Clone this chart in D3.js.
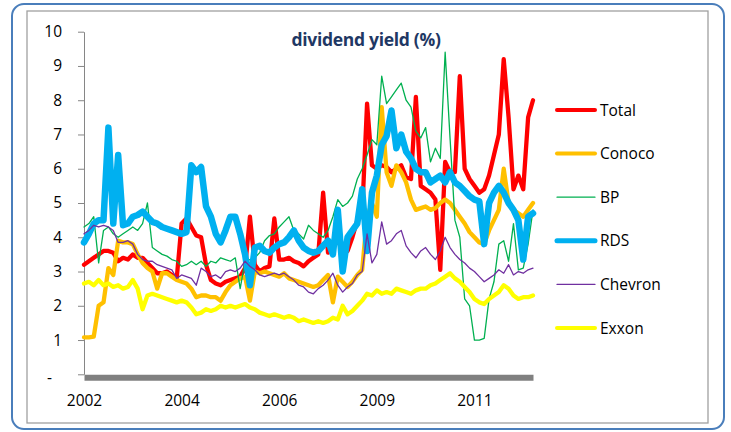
<!DOCTYPE html>
<html>
<head>
<meta charset="utf-8">
<script src="https://cdn.jsdelivr.net/npm/d3@7"></script>
<style>
    body { margin: 0; background: #fff; }
    text { font-family: "Open Sans", sans-serif; }
</style>
</head>
<body>
<div id="chart"></div>
<script>

// category axis labels, one label every 20 points
const yearLabels = ["2002", "2004", "2006", "2009", "2011"];
const labelEvery = 20;
const yTicks = [0, 1, 2, 3, 4, 5, 6, 7, 8, 9, 10];

const seriesNames = ["Total", "Conoco", "BP", "RDS", "Chevron", "Exxon"];

// dividend yield (%)
const total = [
    3.2, 3.3, 3.4, 3.5, 3.6, 3.6, 3.55, 3.3, 3.4, 3.35,
    3.5, 3.4, 3.4, 3.25, 3.1, 2.95, 2.95, 3.0, 2.9, 2.8,
    4.4, 4.55, 4.3, 4.05, 4.0, 3.2, 2.75, 2.65, 2.6, 2.7,
    2.75, 2.8, 2.85, 3.1, 4.6, 3.2, 3.0, 3.1, 3.15, 4.55,
    3.35, 3.35, 3.4, 3.3, 3.25, 3.15, 3.3, 3.4, 3.5, 5.3,
    3.55, 3.7, 3.9, 3.8, 3.6, 4.0, 4.5, 4.7, 7.9, 6.1,
    6.0, 6.1, 6.05, 5.9, 6.0, 6.1, 5.75, 5.7, 8.1, 5.5,
    5.4, 5.3, 5.1, 3.05, 6.2, 5.9, 5.9, 8.7, 6.0, 5.7,
    5.5, 5.3, 5.4, 5.8, 6.4, 7.0, 9.2, 7.5, 5.4, 5.8,
    5.4, 7.5, 8.0
];

const conoco = [
    1.08, 1.08, 1.1, 2.0, 2.1, 3.1, 2.9, 3.9, 3.85, 3.85,
    3.8, 3.5, 3.25, 3.1, 3.0, 2.5, 2.95, 2.95, 2.85, 2.75,
    2.7, 2.65, 2.5, 2.25, 2.3, 2.3, 2.25, 2.25, 2.15, 2.4,
    2.6, 2.7, 2.8, 2.85, 2.15, 3.0, 2.95, 3.0, 2.95, 2.9,
    2.85, 2.95, 2.8, 2.75, 2.7, 2.65, 2.6, 2.55, 2.6, 2.75,
    2.9, 2.1, 2.85, 2.7, 2.55, 2.7, 2.9, 3.05, 4.6, 5.0,
    4.6, 7.8, 5.9, 5.5, 6.1, 5.9, 5.6, 5.1, 4.8, 4.85,
    4.9, 4.8, 4.85, 5.0, 5.1, 5.0, 4.8, 4.6, 4.4, 4.15,
    4.0, 3.85, 3.8, 4.2, 4.5, 4.8, 6.0, 5.0, 4.8, 4.7,
    4.6, 4.8, 5.0
];

const bp = [
    4.3, 4.4, 4.6, 3.25, 4.2, 4.3, 4.1, 4.0, 4.1, 4.2,
    4.3, 4.2, 4.4, 5.0, 3.7, 3.6, 3.5, 3.45, 3.35, 3.3,
    3.15, 3.2, 3.3, 3.2, 3.3, 3.15, 3.3, 3.25, 3.4, 3.35,
    3.3, 3.4, 2.5, 3.3, 3.35, 3.4, 3.55, 3.9, 4.05, 4.1,
    4.3, 4.45, 4.6, 4.2, 4.1, 3.95, 4.35, 4.2, 4.1, 4.0,
    4.2, 4.6, 5.1, 4.9, 5.0, 5.2, 5.7, 6.0, 6.4, 6.85,
    6.7, 8.7, 7.9, 8.1, 8.3, 8.5, 8.0, 7.8, 7.1, 6.9,
    7.2, 6.2, 6.6, 6.3, 9.4, 6.9, 4.5, 4.0, 2.2, 2.0,
    1.0, 1.0, 1.05, 2.2, 2.7, 3.8, 3.9, 3.3, 4.4, 3.05,
    3.1, 3.8, 4.8
];

const rds = [
    3.85, 4.1, 4.4, 4.5, 4.5, 7.2, 4.4, 6.4, 4.35, 4.4,
    4.6, 4.65, 4.75, 4.6, 4.45, 4.4, 4.3, 4.25, 4.2, 4.15,
    4.1, 4.15, 6.1, 5.9, 6.05, 4.9, 4.6, 4.1, 3.85, 4.2,
    4.6, 4.6, 4.1, 3.5, 2.6, 3.7, 3.75, 3.6, 3.55, 3.7,
    3.8, 3.85, 4.0, 4.2, 3.9, 3.7, 3.6, 3.55, 3.6, 3.75,
    3.9, 3.5, 4.8, 3.0, 4.0, 4.2, 4.4, 5.4, 3.6, 5.3,
    5.8, 6.7, 6.95, 7.7, 6.6, 7.0, 6.5, 6.3, 6.0, 5.9,
    5.9, 5.6, 5.7, 5.8, 5.6, 5.9, 5.6, 5.5, 5.35, 5.2,
    5.1, 5.05, 3.8, 5.0, 5.3, 5.5, 5.3, 5.0, 4.8, 4.5,
    3.35, 4.6, 4.7
];

const chevron = [
    4.1, 4.2, 4.35, 4.3, 4.35, 4.3, 4.2, 3.85, 3.85, 3.9,
    3.8, 3.5, 3.35, 3.3, 3.3, 3.2, 3.15, 3.1, 3.05, 2.8,
    2.9, 2.85, 2.8, 2.6, 3.1, 3.0, 2.85, 2.9, 2.8, 3.0,
    3.05, 3.0, 3.1, 3.3, 3.15, 3.05, 2.9, 2.85, 2.9, 2.95,
    2.9, 2.95, 2.85, 2.75, 2.6, 2.55, 2.4, 2.35, 2.5, 2.6,
    2.75, 2.95, 2.6, 2.4, 2.55, 2.65, 2.9, 3.0, 4.1, 3.25,
    3.5, 4.45, 3.8, 3.9, 4.1, 4.2, 3.75, 3.55, 3.4, 3.6,
    3.7, 3.5, 3.35, 3.6, 4.0, 3.7, 3.5, 3.35, 3.25, 3.1,
    3.0, 2.85, 2.7, 2.8, 2.9, 3.05, 2.95, 3.2, 2.9, 3.0,
    2.95, 3.05, 3.1
];

const exxon = [
    2.65, 2.7, 2.6, 2.75, 2.6, 2.65, 2.55, 2.6, 2.5, 2.55,
    2.75, 2.5, 1.9, 2.3, 2.35, 2.3, 2.25, 2.2, 2.15, 2.1,
    2.15, 2.1, 1.95, 1.75, 1.8, 1.9, 1.85, 1.9, 2.0, 1.95,
    2.0, 1.95, 2.0, 2.05, 1.95, 1.9, 1.8, 1.75, 1.7, 1.75,
    1.7, 1.65, 1.7, 1.65, 1.55, 1.6, 1.55, 1.5, 1.55, 1.5,
    1.55, 1.65, 1.6, 2.0, 1.75, 1.85, 2.0, 2.15, 2.35, 2.3,
    2.45, 2.35, 2.4, 2.35, 2.5, 2.45, 2.4, 2.35, 2.45, 2.5,
    2.5, 2.6, 2.65, 2.75, 2.85, 2.95, 2.8, 2.7, 2.55, 2.4,
    2.2, 2.1, 2.05, 2.2, 2.3, 2.4, 2.6, 2.5, 2.3, 2.2,
    2.25, 2.25, 2.3
];

const seriesValues = [total, conoco, bp, rds, chevron, exxon];

// line styles, same order as the series
const colors = ["#ff0000", "#ffc000", "#00b050", "#00b0f0", "#7030a0", "#ffff00"];
const lineWidths = [4.3, 4.3, 1.3, 6.5, 1.3, 4.3];
const legendWidths = [4, 4, 1.2, 5, 1.2, 4];

let width = 731,
    height = 432;

let svg = d3.select("#chart").append("svg")
    .attr("width", width)
    .attr("height", height);

// chart frames
svg.append("rect")
    .attr("x", 12).attr("y", 4)
    .attr("width", 712).attr("height", 425)
    .attr("rx", 12).attr("ry", 12)
    .attr("fill", "none")
    .attr("stroke", "#4a7ebb")
    .attr("stroke-width", 2);

svg.append("rect")
    .attr("x", 27).attr("y", 11)
    .attr("width", 681).attr("height", 412)
    .attr("fill", "#fff")
    .attr("stroke", "#a0a0a0")
    .attr("stroke-width", 1.3);

// scales
let plot = {left: 84, right: 533, top: 31.7, bottom: 374.3};
let nPoints = total.length;

let x = d3.scaleLinear()
    .domain([0, nPoints - 1])
    .range([plot.left, plot.right]);

let y = d3.scaleLinear()
    .domain([0, 10])
    .range([plot.bottom, plot.top]);

// y axis
let yAxis = d3.axisLeft(y)
    .tickValues(yTicks)
    .tickSize(6)
    .tickSizeOuter(0)
    .tickPadding(16)
    .tickFormat(d => d === 0 ? "-" : d);

let yAxisGroup = svg.append("g")
    .attr("transform", `translate(${plot.left}, 0)`)
    .call(yAxis);

yAxisGroup.select(".domain").attr("stroke", "#868686");
yAxisGroup.selectAll(".tick line").attr("stroke", "#868686");
yAxisGroup.selectAll(".tick text")
    .attr("font-size", 15.5)
    .attr("font-family", "Open Sans")
    .attr("fill", "#000");
// accounting style dash for zero sits further left
yAxisGroup.selectAll(".tick text")
    .filter(d => d === 0)
    .attr("x", -32)
    .attr("dy", "0.55em");

// lines, drawn in legend order
let line = d3.line()
    .x((d, i) => x(i))
    .y(d => y(d));

svg.append("g")
    .selectAll("path")
    .data(seriesValues)
    .enter()
    .append("path")
    .attr("d", line)
    .attr("fill", "none")
    .attr("stroke", (d, i) => colors[i])
    .attr("stroke-width", (d, i) => lineWidths[i])
    .attr("stroke-linejoin", "round")
    .attr("stroke-linecap", "round");

// x axis: thick grey base line with year labels
let xAxis = d3.axisBottom(x)
    .tickValues(d3.range(0, nPoints, labelEvery))
    .tickSize(0)
    .tickSizeOuter(0)
    .tickPadding(18)
    .tickFormat((d, i) => yearLabels[i]);

let xAxisGroup = svg.append("g")
    .attr("transform", `translate(0, ${plot.bottom + 3})`)
    .call(xAxis);

xAxisGroup.select(".domain")
    .attr("stroke", "#808080")
    .attr("stroke-width", 6);
xAxisGroup.selectAll(".tick text")
    .attr("font-size", 15.5)
    .attr("font-family", "Open Sans")
    .attr("fill", "#000");

// title
svg.append("text")
    .attr("x", 366)
    .attr("y", 46)
    .attr("text-anchor", "middle")
    .attr("font-size", 17.5)
    .attr("font-weight", "bold")
    .attr("letter-spacing", "-0.3")
    .attr("fill", "#1f3864")
    .text("dividend yield (%)");

// legend
let legend = svg.append("g")
    .selectAll("g")
    .data(seriesNames)
    .enter()
    .append("g")
    .attr("transform", (d, i) => `translate(557, ${110 + i * 43.6})`);

legend.append("line")
    .attr("x1", 0)
    .attr("x2", 38)
    .attr("stroke", (d, i) => colors[i])
    .attr("stroke-width", (d, i) => legendWidths[i])
    .attr("stroke-linecap", "round");

legend.append("text")
    .attr("x", 43)
    .attr("dy", "0.36em")
    .attr("font-size", 15.5)
    .attr("fill", "#000")
    .text(d => d);

</script>
</body>
</html>
